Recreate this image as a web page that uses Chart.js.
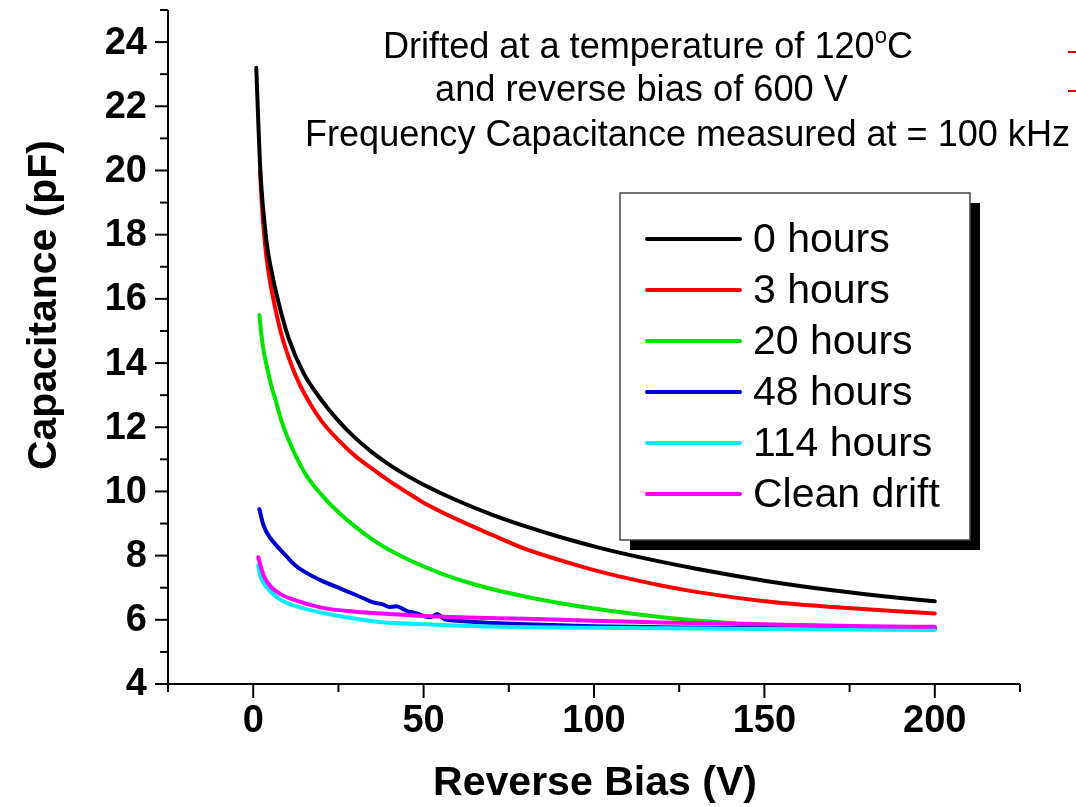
<!DOCTYPE html>
<html>
<head>
<meta charset="utf-8">
<script src="https://cdn.jsdelivr.net/npm/chart.js@4.4.1/dist/chart.umd.min.js"></script>
<style>
  html, body { margin: 0; padding: 0; background: #fff; }
  #wrap { width: 1076px; height: 807px; }
</style>
</head>
<body>
<div id="wrap"><canvas id="cv" width="1076" height="807"></canvas></div>
<script>
// Valores (tensão em V, capacitância em pF)
const v0h = [0.9, 1.5, 2, 2.6, 3.2, 4, 5.3, 7.4, 10.3, 14.7, 20, 25, 30, 35, 40, 45, 50, 60, 70, 80, 90, 100, 110, 130, 150, 170, 190, 200];
const c0h = [23.2, 21.5, 20.2, 19.2, 18.5, 17.7, 16.9, 15.9, 14.8, 13.7, 12.85, 12.2, 11.66, 11.21, 10.83, 10.5, 10.21, 9.71, 9.28, 8.91, 8.58, 8.29, 8.03, 7.59, 7.22, 6.92, 6.68, 6.58];

const v3h = [2, 2.5, 3.2, 4, 5, 6.5, 8, 10, 12.5, 15, 20, 25, 30, 35, 40, 45, 50, 60, 70, 80, 90, 100, 110, 120, 130, 150, 170, 190, 200];
const c3h = [20.0, 19.0, 18.0, 17.2, 16.5, 15.7, 15.0, 14.3, 13.6, 13.05, 12.2, 11.6, 11.1, 10.7, 10.32, 9.98, 9.65, 9.12, 8.65, 8.2, 7.86, 7.55, 7.29, 7.06, 6.87, 6.58, 6.4, 6.26, 6.2];

const v20h = [1.8, 2.5, 3.2, 4, 5.3, 6.5, 8, 10, 15, 20, 25, 35, 45, 55, 65, 80, 100, 120, 140, 150, 160, 180, 200];
const c20h = [15.5, 14.8, 14.3, 13.9, 13.3, 12.87, 12.3, 11.7, 10.6, 9.9, 9.35, 8.5, 7.9, 7.45, 7.1, 6.72, 6.35, 6.08, 5.9, 5.84, 5.8, 5.76, 5.74];

const v48h = [1.8, 3, 5, 7.4, 10, 12.3, 15, 20, 25, 30, 35, 38, 40, 42, 45, 48, 50, 52, 54, 56, 60, 65, 70, 80, 100, 120, 150, 180, 200];
const c48h = [9.45, 8.95, 8.55, 8.25, 7.95, 7.7, 7.5, 7.22, 7.0, 6.78, 6.55, 6.48, 6.4, 6.42, 6.28, 6.2, 6.12, 6.08, 6.18, 6.03, 5.97, 5.93, 5.9, 5.86, 5.8, 5.77, 5.74, 5.72, 5.71];

const v114h = [1.5, 2, 3, 4.5, 7, 10, 15, 22, 30, 37, 50, 65, 80, 100, 150, 200];
const c114h = [7.7, 7.4, 7.15, 6.95, 6.7, 6.52, 6.35, 6.18, 6.03, 5.93, 5.86, 5.8, 5.77, 5.75, 5.71, 5.68];

const vClean = [1.5, 2, 3, 5, 8, 12, 20, 30, 40, 50, 60, 80, 100, 120, 150, 180, 200];
const cClean = [7.95, 7.75, 7.4, 7.05, 6.8, 6.62, 6.38, 6.25, 6.18, 6.12, 6.08, 6.03, 5.97, 5.92, 5.86, 5.8, 5.78];

const seriesLabels = ['0 hours', '3 hours', '20 hours', '48 hours', '114 hours', 'Clean drift'];
const seriesColors = ['#000000', '#ff0000', '#00e400', '#0000d0', '#00eeff', '#ff00ff'];

// Marcas dos eixos
const xMajorTicks = [0, 50, 100, 150, 200];
const xMinorTicks = [-25, 25, 75, 125, 175, 225];
const yMajorTicks = [4, 6, 8, 10, 12, 14, 16, 18, 20, 22, 24];
const yMinorTicks = [5, 7, 9, 11, 13, 15, 17, 19, 21, 23, 25];

const allV = [v0h, v3h, v20h, v48h, v114h, vClean];
const allC = [c0h, c3h, c20h, c48h, c114h, cClean];
const drawOrder = [0, 1, 5, 4, 3, 2];

function toPoints(xs, ys) {
    return xs.map((x, i) => ({ x: x, y: ys[i] }));
}

const datasets = seriesLabels.map((label, i) => ({
    label: label,
    data: toPoints(allV[i], allC[i]),
    borderColor: seriesColors[i],
    borderWidth: 4,
    borderCapStyle: 'round',
    borderJoinStyle: 'round',
    pointRadius: 0,
    cubicInterpolationMode: 'monotone',
    fill: false,
    order: drawOrder[i]
}));

// Escreve um texto ajustado a uma largura fixa
function fitText(ctx, text, x, y, width) {
    const w = ctx.measureText(text).width;
    ctx.save();
    ctx.translate(x, y);
    ctx.scale(width / w, 1);
    ctx.fillText(text, 0, 0);
    ctx.restore();
}

const axesPlugin = {
    id: 'axesPlugin',
    afterDatasetsDraw(chart) {
        const ctx = chart.ctx;
        const xs = chart.scales.x;
        const ys = chart.scales.y;
        const area = chart.chartArea;

        ctx.save();
        ctx.strokeStyle = '#000';
        ctx.fillStyle = '#000';
        ctx.lineWidth = 2;

        // Eixos
        ctx.beginPath();
        ctx.moveTo(area.left, area.top);
        ctx.lineTo(area.left, area.bottom);
        ctx.lineTo(area.right, area.bottom);
        ctx.stroke();

        // Marcas do eixo Y
        yMajorTicks.forEach(v => {
            const p = ys.getPixelForValue(v);
            ctx.beginPath(); ctx.moveTo(area.left - 13, p); ctx.lineTo(area.left, p); ctx.stroke();
        });
        yMinorTicks.forEach(v => {
            const p = ys.getPixelForValue(v);
            ctx.beginPath(); ctx.moveTo(area.left - 8, p); ctx.lineTo(area.left, p); ctx.stroke();
        });
        // Marcas do eixo X
        xMajorTicks.forEach(v => {
            const p = xs.getPixelForValue(v);
            ctx.beginPath(); ctx.moveTo(p, area.bottom); ctx.lineTo(p, area.bottom + 14); ctx.stroke();
        });
        xMinorTicks.forEach(v => {
            const p = xs.getPixelForValue(v);
            ctx.beginPath(); ctx.moveTo(p, area.bottom); ctx.lineTo(p, area.bottom + 8); ctx.stroke();
        });

        // Rótulos das marcas
        ctx.font = 'bold 38px "Liberation Sans", Arial, sans-serif';
        ctx.textAlign = 'right';
        ctx.textBaseline = 'middle';
        yMajorTicks.forEach(v => {
            ctx.fillText(String(v), area.left - 21, ys.getPixelForValue(v) + 1);
        });
        ctx.textAlign = 'center';
        xMajorTicks.forEach(v => {
            ctx.fillText(String(v), xs.getPixelForValue(v), area.bottom + 38);
        });

        // Títulos dos eixos
        ctx.font = 'bold 40px "Liberation Sans", Arial, sans-serif';
        ctx.textAlign = 'left';
        ctx.textBaseline = 'middle';
        fitText(ctx, 'Reverse Bias (V)', 433, 784, 324);
        ctx.save();
        ctx.translate(45, 470);
        ctx.rotate(-Math.PI / 2);
        fitText(ctx, 'Capacitance (pF)', 0, 0, 330);
        ctx.restore();

        // Anotação
        ctx.font = '36px "Liberation Sans", Arial, sans-serif';
        ctx.textBaseline = 'alphabetic';
        const part1 = 'Drifted at a temperature of 120';
        const w1 = ctx.measureText(part1).width;
        const wC = ctx.measureText('C').width;
        ctx.font = '22px "Liberation Sans", Arial, sans-serif';
        const wo = ctx.measureText('o').width;
        const sx = 530 / (w1 + wo + wC);
        ctx.save();
        ctx.translate(383, 58);
        ctx.scale(sx, 1);
        ctx.font = '36px "Liberation Sans", Arial, sans-serif';
        ctx.fillText(part1, 0, 0);
        ctx.fillText('C', w1 + wo, 0);
        ctx.font = '22px "Liberation Sans", Arial, sans-serif';
        ctx.fillText('o', w1, -15);
        ctx.restore();
        ctx.font = '36px "Liberation Sans", Arial, sans-serif';
        fitText(ctx, 'and reverse bias of 600 V', 435, 101, 413);
        fitText(ctx, 'Frequency Capacitance measured at = 100 kHz', 305, 146, 765);

        // Legenda com sombra
        ctx.fillStyle = '#000';
        ctx.fillRect(630, 203, 350, 347);
        ctx.fillStyle = '#fff';
        ctx.fillRect(620, 193, 350, 347);
        ctx.strokeStyle = '#444';
        ctx.lineWidth = 1.5;
        ctx.strokeRect(620, 193, 350, 347);
        ctx.font = '41px "Liberation Sans", Arial, sans-serif';
        ctx.textBaseline = 'middle';
        chart.data.datasets.forEach((ds, i) => {
            const y = 239 + i * 51;
            ctx.strokeStyle = ds.borderColor;
            ctx.lineWidth = 4;
            ctx.lineCap = 'round';
            ctx.beginPath(); ctx.moveTo(647, y); ctx.lineTo(740, y); ctx.stroke();
            ctx.fillStyle = '#000';
            ctx.fillText(ds.label, 753, y + 2);
        });

        // Pequenas marcas vermelhas na borda direita
        ctx.strokeStyle = '#e00000';
        ctx.lineWidth = 2;
        ctx.lineCap = 'butt';
        ctx.beginPath(); ctx.moveTo(1068, 52); ctx.lineTo(1076, 52); ctx.stroke();
        ctx.beginPath(); ctx.moveTo(1068, 91); ctx.lineTo(1076, 91); ctx.stroke();
        ctx.restore();
    }
};

new Chart(document.getElementById('cv').getContext('2d'), {
    type: 'line',
    data: { datasets: datasets },
    options: {
        responsive: false,
        animation: false,
        layout: { padding: { left: 168, right: 56, top: 10, bottom: 123 } },
        scales: {
            x: { type: 'linear', min: -25, max: 225, display: false },
            y: { type: 'linear', min: 4, max: 25, display: false }
        },
        plugins: {
            legend: { display: false },
            tooltip: { enabled: false }
        }
    },
    plugins: [axesPlugin]
});
</script>
</body>
</html>
